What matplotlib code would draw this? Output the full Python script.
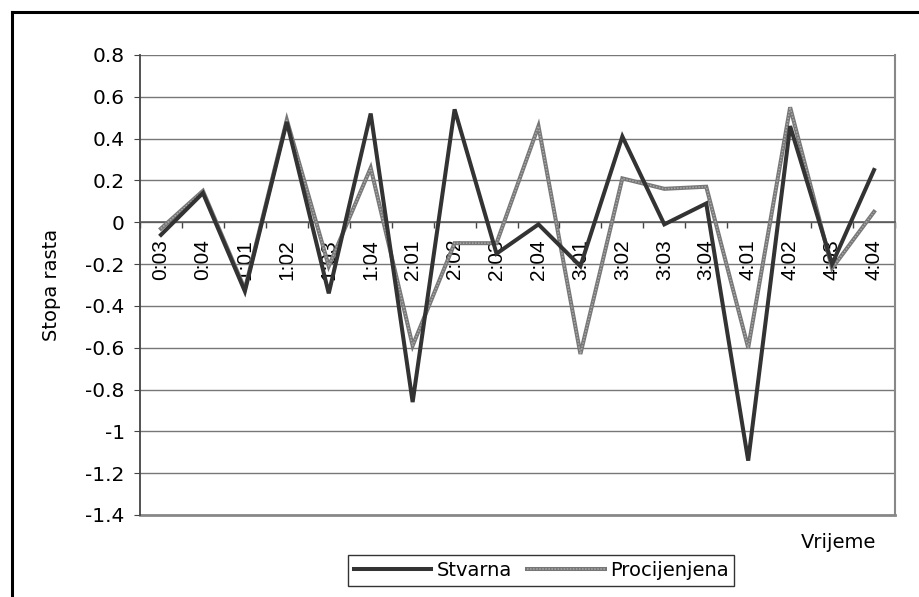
import numpy as np
from matplotlib import pyplot as plt
from matplotlib.lines import Line2D
from matplotlib.legend_handler import HandlerTuple

vrijeme = ['0:03', '0:04', '1:01', '1:02', '1:03', '1:04', '2:01', '2:02', '2:03',
           '2:04', '3:01', '3:02', '3:03', '3:04', '4:01', '4:02', '4:03', '4:04']
stvarna = [-0.06, 0.14, -0.33, 0.48, -0.34, 0.52, -0.86, 0.54, -0.15,
           -0.01, -0.21, 0.41, -0.01, 0.09, -1.14, 0.46, -0.20, 0.25]
procijenjena = [-0.03, 0.15, -0.32, 0.49, -0.21, 0.26, -0.59, -0.10, -0.10,
                0.46, -0.63, 0.21, 0.16, 0.17, -0.60, 0.55, -0.22, 0.05]
y_ticks = [0.8, 0.6, 0.4, 0.2, 0, -0.2, -0.4, -0.6, -0.8, -1, -1.2, -1.4]

if __name__ == '__main__':
    fig = plt.figure(figsize=(9.2, 5.97), dpi=100)
    ax = fig.add_axes([140 / 920, 1 - 515 / 597, 755 / 920, 460 / 597])

    x = np.arange(len(vrijeme)) + 0.5

    # procijenjena: siva "teksturirana" linija
    p1, = ax.plot(x, procijenjena, color='#777777', lw=2.9, zorder=3,
                  solid_joinstyle='miter')
    p2, = ax.plot(x, procijenjena, color='#a8a8a8', lw=1.1, zorder=3.1,
                  linestyle=(0, (1, 1.0)))
    s1, = ax.plot(x, stvarna, color='#333333', lw=2.9, zorder=4,
                  solid_joinstyle='miter')

    ax.set_xlim(0, len(vrijeme))
    ax.set_ylim(-1.4, 0.8)
    ax.set_yticks(y_ticks, labels=[f'{v:g}' for v in y_ticks])
    ax.yaxis.grid(True, color='#777777', lw=1.0)
    ax.set_axisbelow(True)

    # x os na nuli
    ax.spines['bottom'].set_position(('data', 0))
    ax.spines['bottom'].set_color('#555555')
    ax.spines['bottom'].set_linewidth(1.1)
    ax.spines['left'].set_color('#444444')
    ax.spines['left'].set_linewidth(1.3)
    ax.spines['right'].set_color('#888888')
    ax.spines['right'].set_linewidth(1.5)
    ax.spines['top'].set_visible(False)
    ax.axhline(-1.4, color='#888888', lw=2, clip_on=False, zorder=1)

    ax.set_xticks(np.arange(len(vrijeme) + 1), labels=[])
    ax.set_xticks(x, labels=vrijeme, minor=True)
    ax.tick_params(axis='x', which='major', direction='out', length=4,
                   color='#444444', width=1)
    ax.tick_params(axis='x', which='minor', length=0, pad=12, labelrotation=90)
    for t in ax.get_xticklabels(minor=True):
        t.set_fontfamily('Liberation Sans')
        t.set_fontsize(15)
        t.set_va('top')
    ax.tick_params(axis='y', direction='out', length=4, color='#444444',
                   labelsize=14.5, pad=7)

    fig.text(52 / 920, 1 - 285 / 597, 'Stopa rasta', rotation=90,
             ha='center', va='center', fontsize=14)
    fig.text(839 / 920, 1 - 542 / 597, 'Vrijeme', ha='center', va='center',
             fontsize=14)

    leg = fig.legend([s1, (p1, p2)], ['Stvarna', 'Procijenjena'],
                     handler_map={tuple: HandlerTuple(ndivide=1)},
                     loc='center', bbox_to_anchor=(541 / 920, 1 - 570.5 / 597),
                     ncol=2, fontsize=14, fancybox=False, edgecolor='#333333',
                     framealpha=1, handlelength=4.0, handletextpad=0.25,
                     columnspacing=0.8, borderpad=0.3, borderaxespad=0)
    leg.get_frame().set_linewidth(1)

    # okvir oko cijele slike
    fig.add_artist(Line2D([11.5 / 920, 11.5 / 920], [0, 1 - 11.5 / 597],
                          color='black', lw=2.2, transform=fig.transFigure))
    fig.add_artist(Line2D([11.5 / 920, 1], [1 - 11.5 / 597, 1 - 11.5 / 597],
                          color='black', lw=2.2, transform=fig.transFigure))

    fig.savefig('out.png', dpi=100)
